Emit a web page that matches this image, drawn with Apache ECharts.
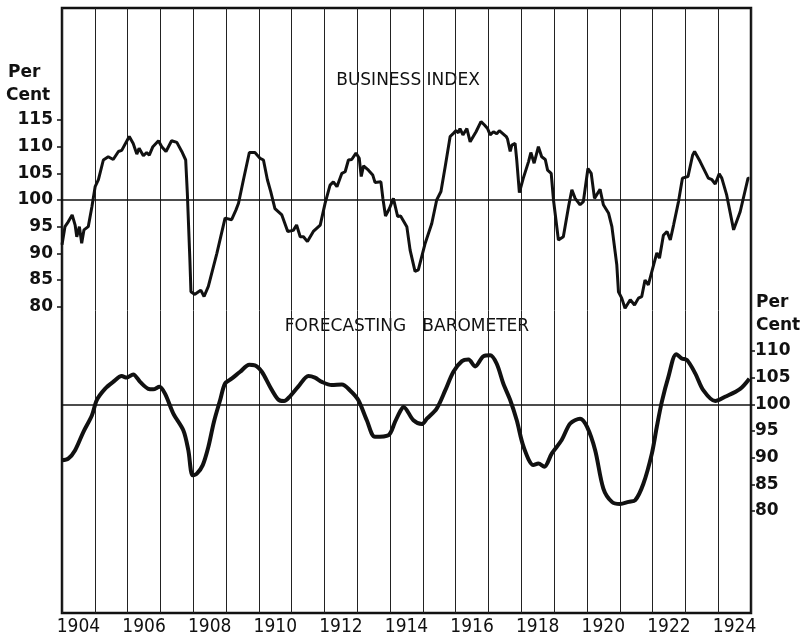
<!DOCTYPE html>
<html><head><meta charset="utf-8">
<script src="https://cdn.jsdelivr.net/npm/echarts@6/dist/echarts.min.js"></script>
<style>html,body{margin:0;padding:0;background:#fff}#c{width:805px;height:638px}</style>
</head><body><div id="c"></div>
<script>
// Business Index (left scale), decimal years
const businessYears = [1904.00,1904.09,1904.19,1904.31,1904.40,1904.45,1904.53,1904.60,1904.67,1904.80,1904.91,1905.01,1905.11,1905.26,1905.41,1905.56,1905.72,1905.82,1906.05,1906.17,1906.28,1906.35,1906.48,1906.58,1906.66,1906.77,1906.94,1907.04,1907.17,1907.34,1907.50,1907.65,1907.77,1907.82,1907.90,1907.93,1908.05,1908.16,1908.23,1908.33,1908.46,1908.72,1908.97,1909.17,1909.30,1909.38,1909.53,1909.71,1909.88,1910.04,1910.14,1910.26,1910.36,1910.49,1910.70,1910.88,1911.05,1911.15,1911.26,1911.36,1911.48,1911.66,1911.87,1912.02,1912.17,1912.27,1912.38,1912.53,1912.63,1912.73,1912.83,1912.96,1913.06,1913.12,1913.19,1913.34,1913.47,1913.54,1913.72,1913.78,1913.86,1913.98,1914.10,1914.23,1914.32,1914.51,1914.61,1914.76,1914.86,1915.07,1915.27,1915.42,1915.55,1915.68,1915.83,1915.93,1916.01,1916.08,1916.13,1916.22,1916.34,1916.44,1916.62,1916.77,1916.87,1916.97,1917.05,1917.15,1917.25,1917.33,1917.54,1917.58,1917.66,1917.71,1917.81,1917.86,1917.94,1918.06,1918.22,1918.29,1918.39,1918.52,1918.62,1918.73,1918.80,1918.91,1918.98,1919.13,1919.28,1919.44,1919.54,1919.64,1919.79,1919.89,1920.03,1920.13,1920.23,1920.40,1920.50,1920.66,1920.76,1920.91,1920.96,1921.06,1921.16,1921.32,1921.45,1921.57,1921.67,1921.77,1921.87,1922.03,1922.13,1922.21,1922.33,1922.44,1922.54,1922.64,1922.79,1922.91,1923.08,1923.22,1923.28,1923.45,1923.70,1923.81,1923.91,1924.03,1924.11,1924.26,1924.47,1924.67,1924.91,1924.95];
const businessValues = [91.6,95.0,95.9,97.2,95.3,93.1,95.0,91.9,94.4,95.0,98.7,102.5,103.8,107.5,108.1,107.6,109.1,109.3,111.9,110.6,108.6,109.7,108.3,108.9,108.4,110.0,111.1,110.0,109.1,111.1,110.8,109.1,107.5,101.3,88.4,82.8,82.3,82.8,83.1,81.9,83.8,90.0,96.6,96.3,98.1,99.4,103.8,108.9,108.9,107.8,107.5,103.8,101.6,98.4,97.2,94.1,94.3,95.3,93.1,93.1,92.2,94.1,95.3,99.4,102.8,103.4,102.5,105.0,105.3,107.5,107.6,108.8,107.8,104.4,106.4,105.6,104.7,103.3,103.4,100.3,97.0,98.4,100.3,96.9,97.0,95.0,90.6,86.6,86.9,91.9,95.6,100.0,101.6,106.3,111.9,112.5,113.0,112.6,113.4,112.2,113.4,110.9,112.8,114.7,114.1,113.4,112.2,112.8,112.4,113.0,111.9,111.4,109.1,110.3,110.6,107.5,101.4,104.1,107.2,108.9,106.9,110.0,108.1,107.6,105.6,105.0,100.0,92.5,93.1,98.8,101.9,100.3,99.1,99.7,105.9,105.0,100.3,102.0,99.1,97.5,95.0,87.8,82.8,81.6,79.7,81.3,80.3,81.6,81.9,85.0,84.1,87.8,90.1,89.1,93.4,94.1,92.5,95.3,99.7,104.1,104.4,108.4,109.1,107.2,104.1,103.8,103.0,104.9,104.1,100.9,94.4,97.8,104.1,104.1];

// Forecasting Barometer (right scale), decimal years
const barometerYears = [1904.00,1904.19,1904.40,1904.65,1904.91,1905.06,1905.31,1905.56,1905.82,1905.97,1906.17,1906.38,1906.63,1906.78,1906.97,1907.14,1907.39,1907.70,1907.85,1907.98,1908.11,1908.29,1908.46,1908.63,1908.82,1908.97,1909.17,1909.43,1909.71,1909.88,1910.09,1910.34,1910.59,1910.77,1910.95,1911.20,1911.51,1911.71,1911.92,1912.22,1912.53,1912.78,1913.03,1913.29,1913.54,1913.95,1914.15,1914.30,1914.41,1914.71,1914.97,1915.12,1915.42,1915.68,1915.93,1916.19,1916.39,1916.59,1916.84,1917.05,1917.25,1917.45,1917.66,1917.86,1918.07,1918.37,1918.52,1918.70,1918.93,1919.23,1919.49,1919.79,1920.00,1920.25,1920.50,1920.76,1921.01,1921.27,1921.47,1921.72,1921.98,1922.13,1922.28,1922.48,1922.72,1922.89,1923.05,1923.30,1923.55,1923.91,1924.21,1924.67,1924.95];
const barometerValues = [89.5,89.8,91.4,94.8,97.9,100.8,102.9,104.2,105.3,105.0,105.6,104.2,102.9,102.8,103.3,102.0,98.3,95.1,91.4,86.7,87.0,88.6,92.0,96.7,100.8,103.9,104.8,106.1,107.4,107.3,106.1,103.3,100.9,100.6,101.5,103.3,105.3,105.0,104.2,103.6,103.7,102.6,100.8,97.0,93.9,94.2,96.7,98.6,99.5,97.0,96.3,97.3,99.2,102.6,106.1,108.1,108.4,107.1,109.0,109.2,107.6,103.9,100.8,97.0,92.0,88.6,88.9,88.3,90.8,93.3,96.4,97.3,95.8,91.4,84.2,81.7,81.3,81.7,82.0,85.1,90.8,95.8,100.4,105.1,109.4,108.6,108.3,105.8,102.6,100.6,101.4,102.9,104.8];

const yearLabels = [1904,1906,1908,1910,1912,1914,1916,1918,1920,1922,1924];
const leftTicks = [80,85,90,95,100,105,110,115];
const rightTicks = [80,85,90,95,100,105,110];

const zip = (xs, ys) => xs.map((x, i) => [x, ys[i]]);
const labelFont = '"DejaVu Sans", sans-serif';

const chart = echarts.init(document.getElementById('c'), null, {renderer: 'canvas'});
chart.setOption({
  animation: false,
  backgroundColor: '#fff',
  grid: {left: 62, right: 54, top: 8, bottom: 25, show: true, borderColor: '#111', borderWidth: 2.5, backgroundColor: 'transparent', outerBoundsMode: 'none'},
  xAxis: {
    type: 'value', min: 1904, max: 1925, interval: 1,
    axisLine: {show: false}, axisTick: {show: false},
    splitLine: {show: true, lineStyle: {color: '#222', width: 1}},
    axisLabel: {
      customValues: yearLabels.map(y => y + 0.5),
      formatter: v => String(Math.floor(v)),
      color: '#111', fontFamily: '"Liberation Sans Narrow", "DejaVu Sans Condensed", sans-serif',
      fontSize: 19, margin: 5
    }
  },
  yAxis: [
    {
      type: 'value', position: 'left', min: 22.56, max: 136.0,
      axisLine: {show: false}, splitLine: {show: false},
      axisTick: {show: true, customValues: leftTicks, length: 5, lineStyle: {color: '#111', width: 1.5}},
      axisLabel: {customValues: leftTicks, color: '#111', fontFamily: labelFont, fontWeight: 'bold', fontSize: 17, margin: 9}
    },
    {
      type: 'value', position: 'right', min: 60.87, max: 174.3,
      axisLine: {show: false}, splitLine: {show: false},
      axisTick: {show: true, customValues: rightTicks, length: 4, lineStyle: {color: '#111', width: 1.5}},
      axisLabel: {customValues: rightTicks, color: '#111', fontFamily: labelFont, fontWeight: 'bold', fontSize: 17, margin: 4}
    }
  ],
  series: [
    {
      name: 'Business Index', type: 'line', yAxisIndex: 0, showSymbol: false,
      data: zip(businessYears, businessValues),
      lineStyle: {color: '#111', width: 3}, z: 5,
      markLine: {silent: true, symbol: 'none', label: {show: false}, lineStyle: {color: '#111', width: 1.5, type: 'solid'}, data: [{yAxis: 100}]}
    },
    {
      name: 'Forecasting Barometer', type: 'line', yAxisIndex: 1, showSymbol: false, smooth: 0.3,
      data: zip(barometerYears, barometerValues),
      lineStyle: {color: '#111', width: 4}, z: 5,
      markLine: {silent: true, symbol: 'none', label: {show: false}, lineStyle: {color: '#111', width: 1.5, type: 'solid'}, data: [{yAxis: 100}]}
    }
  ],
  graphic: [
    {type: 'text', left: 8, top: 64, style: {text: 'Per', font: 'bold 17px "DejaVu Sans", sans-serif', fill: '#111'}},
    {type: 'text', left: 6, top: 87, style: {text: 'Cent', font: 'bold 17px "DejaVu Sans", sans-serif', fill: '#111'}},
    {type: 'text', left: 756, top: 294, style: {text: 'Per', font: 'bold 17px "DejaVu Sans", sans-serif', fill: '#111'}},
    {type: 'text', left: 756, top: 317, style: {text: 'Cent', font: 'bold 17px "DejaVu Sans", sans-serif', fill: '#111'}},
    {type: 'text', x: 408, y: 81, style: {text: 'BUSINESS INDEX', font: '17px "DejaVu Sans", sans-serif', fill: '#111', textAlign: 'center', textVerticalAlign: 'middle'}},
    {type: 'text', x: 407, y: 327, style: {text: 'FORECASTING   BAROMETER', font: '17px "DejaVu Sans", sans-serif', fill: '#111', textAlign: 'center', textVerticalAlign: 'middle'}}
  ]
});
</script>
</body></html>
